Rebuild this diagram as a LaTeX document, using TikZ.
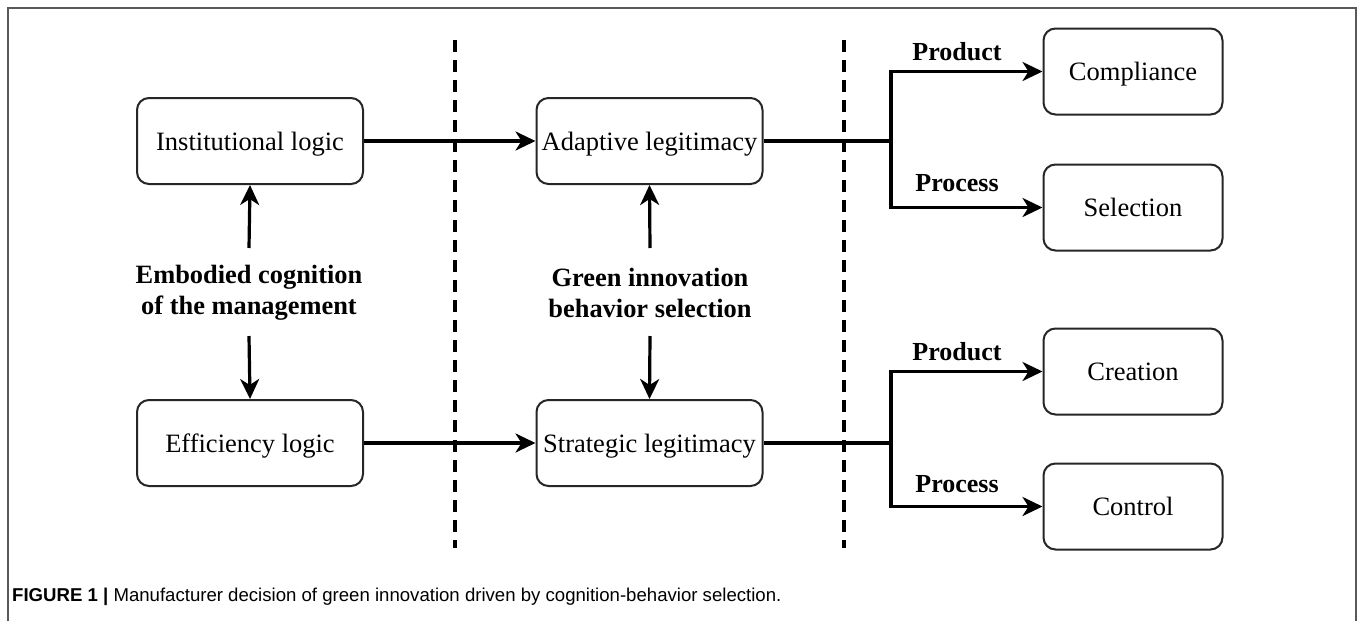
\documentclass[tikz,border=0pt]{standalone}
\usepackage{fontspec}
\setmainfont{Liberation Serif}
\newfontfamily\capfont{Liberation Sans}
\usetikzlibrary{arrows.meta}
\begin{document}
\begin{tikzpicture}[x=1pt,y=-1pt,
  box/.style={draw=black!85, line width=2pt, rounded corners=12pt, fill=white,
    minimum height=86pt, inner sep=0pt, text height=19pt, text depth=1pt,
    font=\fontsize{26.5}{30}\selectfont},
  bigbox/.style={box, minimum width=226pt},
  smallbox/.style={box, minimum width=179pt},
  lbl/.style={font=\bfseries\fontsize{26.4}{31}\selectfont, align=center, inner sep=0pt},
  plbl/.style={font=\bfseries\fontsize{26}{30}\selectfont, inner sep=0pt},
  conn/.style={line width=3.2pt, -{Stealth[length=20pt,width=19pt,inset=6pt]}},
  plain/.style={line width=3.2pt},
  sep/.style={line width=3.2pt, dash pattern=on 12pt off 8pt},
  frame/.style={draw=black!65, line width=1.5pt}
]
\useasboundingbox (0,0) rectangle (1357,621);
\fill[white] (0,0) rectangle (1357,621);
\draw[frame] (8,621) -- (8,8) -- (1356,8) -- (1356,621);

% separators
\coordinate (s1t) at (455,40); \coordinate (s1b) at (455,548);
\coordinate (s2t) at (844,40); \coordinate (s2b) at (844,548);
\draw[sep] (s1t) -- (s1b);
\draw[sep] (s2t) -- (s2b);

% boxes
\node[bigbox] (inst) at (250,141) {Institutional logic};
\node[bigbox] (eff)  at (250,443) {Efficiency logic};
\node[bigbox] (adap) at (649.5,141) {Adaptive legitimacy};
\node[bigbox] (strat) at (649.5,443) {Strategic legitimacy};
\node[smallbox] (comp) at (1133,71.5) {Compliance};
\node[smallbox] (sel)  at (1133,207.5) {Selection};
\node[smallbox] (crea) at (1133,371.5) {Creation};
\node[smallbox] (ctrl) at (1133,506.5) {Control};

% middle labels
\node[lbl] (emb) at (249,293) {Embodied cognition\\of the management};
\node[lbl] (gib) at (650,293) {Green innovation\\behavior selection};

\coordinate (e1) at (249,248); \coordinate (e2) at (249,336);
\coordinate (g1) at (650,248); \coordinate (g2) at (650,336);
\draw[conn] (e1) -- (inst.south);
\draw[conn] (e2) -- (eff.north);
\draw[conn] (g1) -- (adap.south);
\draw[conn] (g2) -- (strat.north);

% horizontal
\draw[conn] (inst.east) -- (adap.west);
\draw[conn] (eff.east) -- (strat.west);

% branches
\coordinate (b1) at (891,141);
\coordinate (b2) at (891,443);
\draw[plain] (adap.east) -- (b1);
\draw[plain] (strat.east) -- (b2);
\draw[conn] (b1) |- (comp.west);
\draw[conn] (b1) |- (sel.west);
\draw[conn] (b2) |- (crea.west);
\draw[conn] (b2) |- (ctrl.west);

\node[plbl] (p1) at (957,52) {Product};
\node[plbl] (q1) at (957,183) {Process};
\node[plbl] (p2) at (957,352) {Product};
\node[plbl] (q2) at (957,484) {Process};

% caption
\node[anchor=west, inner sep=0pt, font=\capfont\fontsize{18.6}{21}\selectfont] (cap) at (12,597)
  {\textbf{FIGURE 1 |} Manufacturer decision of green innovation driven by cognition-behavior selection.};
\end{tikzpicture}
\end{document}
